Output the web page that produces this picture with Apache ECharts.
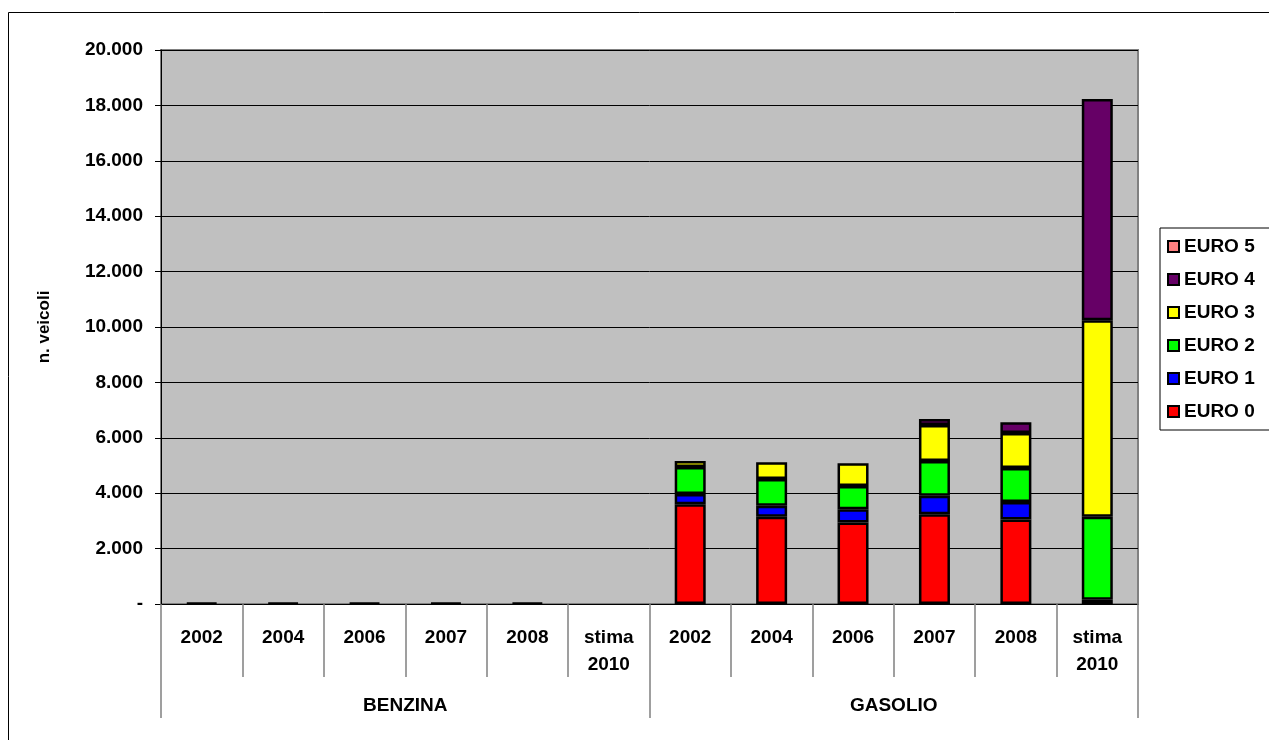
<!DOCTYPE html>
<html>
<head>
<meta charset="utf-8">
<script src="https://cdn.jsdelivr.net/npm/echarts@6/dist/echarts.min.js"></script>
<style>html,body{margin:0;padding:0;background:#fff;}#c{width:1269px;height:740px;}</style>
</head>
<body>
<div id="c"></div>
<script>
// ---- data ----
const years = ['2002', '2004', '2006', '2007', '2008', 'stima\n2010'];
const groups = ['BENZINA', 'GASOLIO'];
const categories = years.concat(years);
const euro0 = [40, 40, 40, 40, 40, null, 3600, 3150, 2940, 3240, 3050, null];
const euro1 = [null, null, null, null, null, null, 370, 400, 480, 670, 630, 150];
const euro2 = [null, null, null, null, null, null, 975, 960, 840, 1250, 1230, 3000];
const euro3 = [null, null, null, null, null, null, 220, 605, 820, 1300, 1260, 7090];
const euro4 = [null, null, null, null, null, null, null, null, null, 220, 390, 7990];
const euro5 = [null, null, null, null, null, null, null, null, null, null, null, null];
const seriesNames = ['EURO 0', 'EURO 1', 'EURO 2', 'EURO 3', 'EURO 4', 'EURO 5'];
const seriesData = [euro0, euro1, euro2, euro3, euro4, euro5];
const colors = ['#FF0000', '#0000FF', '#00FF00', '#FFFF00', '#660066', '#FF8080'];
const yTicks = { min: 0, max: 20000, interval: 2000 };

const FONT = '"Liberation Sans", Arial, sans-serif';
const chart = echarts.init(document.getElementById('c'), null, { renderer: 'canvas' });

function fmt(v) {
  if (v === 0) return '-';
  return String(v).replace(/\B(?=(\d{3})+(?!\d))/g, '.');
}

const series = seriesNames.map((n, i) => ({
  name: n,
  type: 'bar',
  stack: 'total',
  xAxisIndex: 0,
  barWidth: 31,
  data: seriesData[i],
  itemStyle: { color: colors[i], borderColor: '#000', borderWidth: 2.5 }
}));

chart.setOption({
  animation: false,
  textStyle: { fontFamily: FONT },
  graphic: [{
    type: 'rect', z: -10, silent: true,
    shape: { x: 8.5, y: 12.5, width: 1400, height: 900 },
    style: { fill: 'none', stroke: '#000', lineWidth: 1 }
  }],
  grid: {
    left: 161, right: 131, top: 50, bottom: 136,
    show: true, backgroundColor: '#C0C0C0', borderColor: '#808080', borderWidth: 2
  },
  legend: {
    orient: 'vertical',
    left: 1160, top: 228,
    data: seriesNames.slice().reverse(),
    icon: 'rect',
    itemWidth: 11, itemHeight: 11, itemGap: 12,
    padding: [8, 30, 8, 7],
    backgroundColor: '#fff', borderColor: '#000', borderWidth: 1,
    textStyle: { fontFamily: FONT, fontWeight: 'bold', fontSize: 19, color: '#000', lineHeight: 21 }
  },
  xAxis: [{
    type: 'category',
    data: categories,
    position: 'bottom',
    axisLine: { show: true, lineStyle: { color: '#000', width: 1 } },
    axisTick: { show: true, length: 73, lineStyle: { color: '#808080', width: 1.5 } },
    axisLabel: {
      interval: 0, margin: 20, fontFamily: FONT, fontWeight: 'bold', fontSize: 19,
      color: '#000', lineHeight: 27, verticalAlign: 'top'
    },
    splitLine: { show: false }
  }, {
    type: 'category',
    data: groups,
    position: 'bottom',
    axisLine: { show: false },
    axisTick: { show: true, length: 114, lineStyle: { color: '#808080', width: 1.5 } },
    axisLabel: {
      interval: 0, margin: 92, fontFamily: FONT, fontWeight: 'bold', fontSize: 19,
      color: '#000', verticalAlign: 'top'
    },
    splitLine: { show: false }
  }],
  yAxis: {
    type: 'value',
    min: yTicks.min, max: yTicks.max, interval: yTicks.interval,
    name: 'n. veicoli',
    nameLocation: 'middle',
    nameGap: 108,
    nameTextStyle: { fontFamily: FONT, fontWeight: 'bold', fontSize: 17, color: '#000' },
    axisLine: { show: true, lineStyle: { color: '#000', width: 1 } },
    axisTick: { show: true, length: 6, lineStyle: { color: '#000' } },
    axisLabel: { formatter: fmt, margin: 18, fontFamily: FONT, fontWeight: 'bold', fontSize: 19, color: '#000' },
    splitLine: { show: true, lineStyle: { color: '#000', width: 1 } }
  },
  series: series
});
</script>
</body>
</html>
